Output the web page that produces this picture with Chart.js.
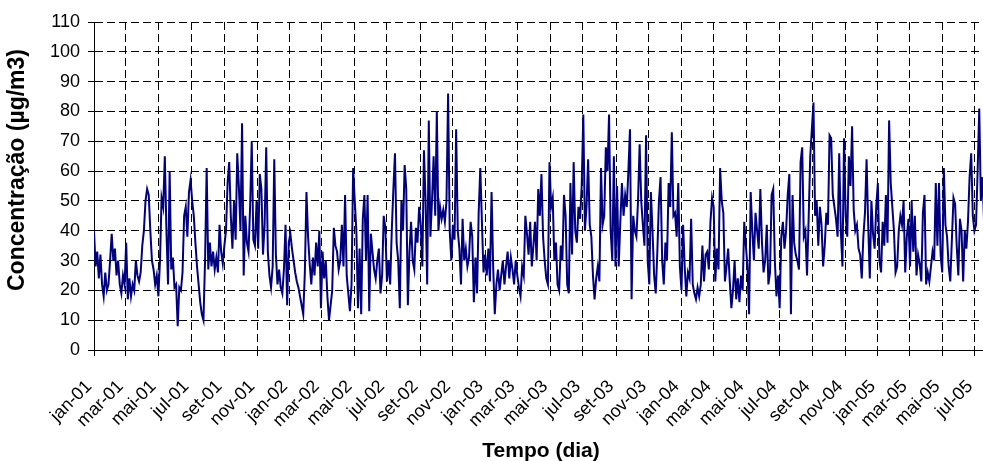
<!DOCTYPE html>
<html><head><meta charset="utf-8">
<script src="https://cdn.jsdelivr.net/npm/chart.js@4/dist/chart.umd.min.js"></script>
<style>html,body{margin:0;padding:0;background:#fff;overflow:hidden}</style>
</head><body>
<canvas id="c" width="983" height="461"></canvas>
<script>
// Daily PM concentration sampled every 3 days starting 2001-01-01
const startYear = 2001;
const stepDays = 3;
const conc = [
40,28,33,24,32,22,18,26,20,22,30,39,30,34,25,30,22,19,25,22,36,17,24,18,22,20,30,25,23,26,35,40,50,54,52,40,30,27,22,25,18,30,51,48,65,40,22,60,27,31,21,
22,8,21,20,26,45,48,38,53,57,50,45,36,28,22,16,12,10,30,61,27,36,28,33,27,31,26,42,33,29,35,40,56,63,45,34,50,37,66,55,40,76,25,45,36,33,48,70,37,
35,50,34,59,54,32,42,68,33,25,21,28,64,32,22,27,21,19,27,42,15,36,39,34,30,26,23,21,18,15,12,26,53,38,29,22,31,25,36,28,40,14,33,24,30,18,10,15,20,41,
35,33,27,30,42,28,52,25,19,13,22,61,50,40,14,34,12,44,52,30,52,13,39,33,27,24,30,34,19,25,45,41,23,30,22,40,54,66,36,30,14,50,40,62,54,15,33,43,30,27,
41,36,48,42,28,67,50,22,77,38,50,65,45,80,40,48,44,47,43,50,86,40,30,42,37,74,40,34,22,44,30,34,28,31,43,38,16,31,19,46,61,43,26,32,25,34,23,53,28,12,
22,27,20,25,30,22,28,33,24,31,27,22,30,25,21,18,28,25,45,39,32,43,28,35,43,30,54,45,59,38,30,24,22,63,48,51,30,36,22,20,35,30,52,45,22,19,56,32,63,
40,36,48,44,55,79,40,48,64,42,38,25,17,24,28,23,61,42,45,68,60,79,40,30,65,28,55,28,43,56,45,52,48,60,74,17,45,40,38,50,69,50,42,35,72,30,22,53,40,25,
19,33,50,58,30,22,36,30,56,48,73,45,46,38,56,28,20,42,28,18,26,24,44,22,19,17,21,18,22,35,23,32,33,27,43,51,48,23,34,27,61,50,46,23,28,34,23,14,20,30,
17,24,16,25,20,43,35,28,12,53,40,30,46,40,34,54,36,26,30,42,22,26,52,54,30,18,25,14,38,43,34,40,52,59,12,52,36,32,30,27,63,68,38,40,25,44,65,74,83,45,
50,35,48,42,28,35,46,42,72,71,52,48,44,38,66,40,28,71,45,38,65,55,75,47,40,42,34,32,24,38,46,64,42,24,50,39,34,48,56,30,26,43,35,52,36,77,56,48,40,26,
28,40,45,42,50,26,38,44,28,50,33,45,25,32,29,23,46,52,22,26,23,28,33,30,56,35,56,32,26,61,42,38,28,23,37,51,49,35,25,44,40,23,40,34,43,58,66,45,40,42,60,81,50,58,43
];
const tickLabels = ['jan-01','mar-01','mai-01','jul-01','set-01','nov-01',
 'jan-02','mar-02','mai-02','jul-02','set-02','nov-02',
 'jan-03','mar-03','mai-03','jul-03','set-03','nov-03',
 'jan-04','mar-04','mai-04','jul-04','set-04','nov-04',
 'jan-05','mar-05','mai-05','jul-05'];
const monthIndex = {jan:0, mar:2, mai:4, jul:6, set:8, nov:10};
const xTitle = 'Tempo (dia)';
const yTitle = 'Concentração (µg/m3)';
const xMaxDay = 1657;

const dayMs = 86400000;
const t0 = Date.UTC(startYear, 0, 1);
const tickDays = tickLabels.map(l => {
  const [m, yy] = l.split('-');
  return Math.round((Date.UTC(2000 + Number(yy), monthIndex[m], 1) - t0) / dayMs);
});
const points = conc.map((v, i) => ({x: i * stepDays, y: v}));

const FAM = '"Liberation Sans", Arial, sans-serif';

const titles = {
  id: 'titles',
  afterDraw(chart) {
    const ctx = chart.ctx;
    ctx.save();
    ctx.fillStyle = '#000';
    ctx.textAlign = 'center';
    ctx.textBaseline = 'middle';
    ctx.font = 'bold 21px ' + FAM;
    ctx.fillText(xTitle, 541, 451);
    ctx.font = 'bold 23px ' + FAM;
    ctx.translate(18, 170);
    ctx.rotate(-Math.PI / 2);
    ctx.fillText(yTitle, 0, 0);
    ctx.restore();
  }
};

new Chart(document.getElementById('c'), {
  type: 'line',
  data: { datasets: [{ data: points, borderColor: '#000080', borderWidth: 2, pointRadius: 0, tension: 0, fill: false }] },
  options: {
    responsive: false, animation: false, devicePixelRatio: 1, events: [],
    layout: { padding: { top: 22, left: 0, right: 0, bottom: 0 } },
    plugins: { legend: { display: false }, tooltip: { enabled: false } },
    scales: {
      x: {
        type: 'linear', min: 0, max: xMaxDay,
        afterBuildTicks: s => { s.ticks = tickDays.map(v => ({ value: v })); },
        afterFit: s => { s.height = 111; s.paddingLeft = 0; s.paddingRight = 0; },
        ticks: { autoSkip: false, minRotation: 45, maxRotation: 45, color: '#000', padding: 20, labelOffset: -5,
                 font: { family: FAM, size: 18 }, callback: (v, i) => tickLabels[i] },
        grid: { color: '#000', lineWidth: 1, tickLength: 6, tickColor: '#000' },
        border: { display: true, color: '#000', width: 1, dash: [8, 4] }
      },
      y: {
        min: 0, max: 110,
        afterFit: s => { s.width = 94; s.paddingTop = 0; s.paddingBottom = 0; },
        ticks: { stepSize: 10, color: '#000', padding: 8, font: { family: FAM, size: 18 } },
        grid: { color: '#000', lineWidth: 1, tickLength: 6, tickColor: '#000' },
        border: { display: true, color: '#000', width: 1, dash: [8, 4] }
      }
    }
  },
  plugins: [titles]
});
</script>
</body></html>
